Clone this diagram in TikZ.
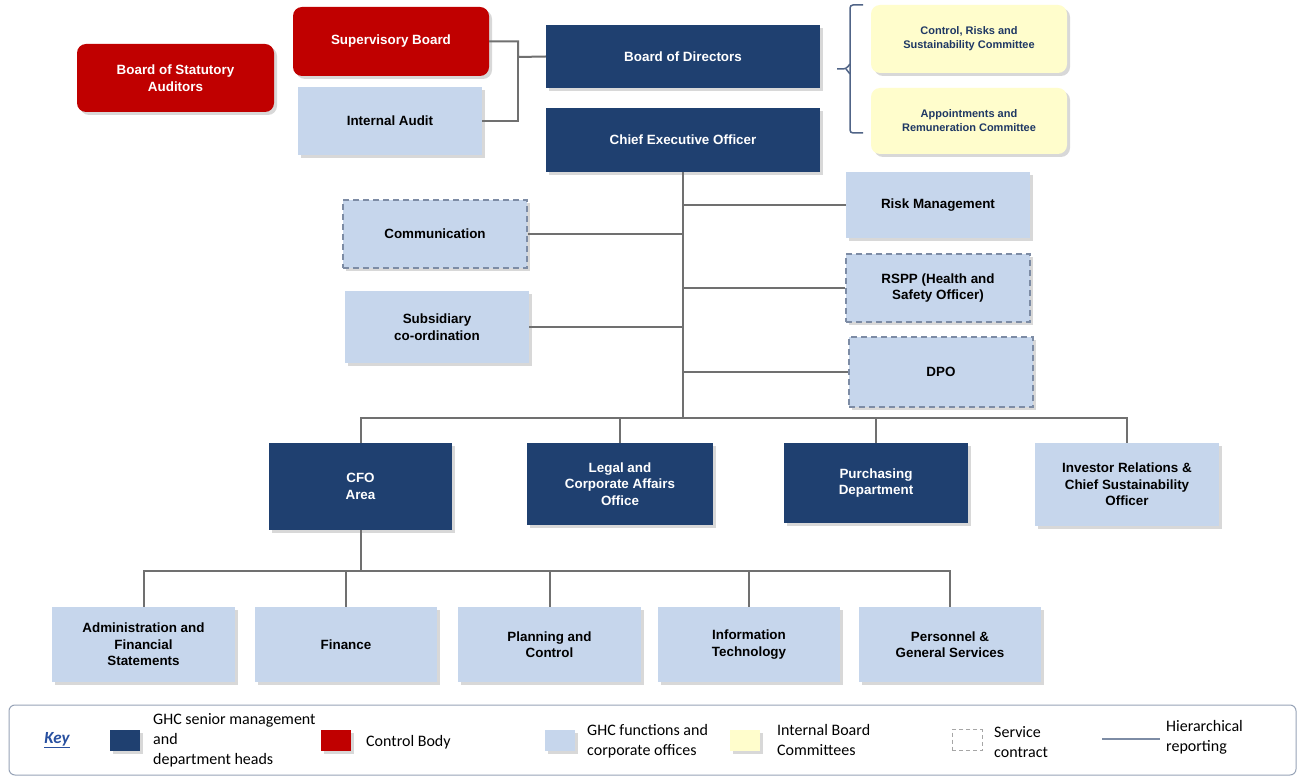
\documentclass[tikz,border=0pt]{standalone}
\usepackage{fontspec}
\setmainfont{Liberation Sans}
\newfontfamily\keyfont{Carlito}
\usetikzlibrary{shadows}
\definecolor{ghcdark}{RGB}{31,64,112}
\definecolor{ghcred}{RGB}{192,0,0}
\definecolor{ghclight}{RGB}{198,214,236}
\definecolor{ghcyellow}{RGB}{255,253,204}
\definecolor{ghcline}{RGB}{112,112,112}
\definecolor{ghcdash}{RGB}{125,140,165}
\definecolor{ghctext}{RGB}{31,56,100}
\definecolor{ghcbrace}{RGB}{80,100,135}
\definecolor{ghckey}{RGB}{40,80,160}
\tikzset{
  shade3/.style={drop shadow={shadow xshift=3pt, shadow yshift=-3pt, opacity=0.3}},
  box/.style={align=center, inner sep=2pt, shade3, font=\bfseries\fontsize{13.4}{16.5}\selectfont},
  darkbox/.style={box, fill=ghcdark, text=white},
  redbox/.style={box, fill=ghcred, text=white, rounded corners=9pt},
  lightbox/.style={box, fill=ghclight, text=black},
  dashbox/.style={lightbox, draw=ghcdash, dash pattern=on 6pt off 4pt, line width=1.5pt},
  yellowbox/.style={box, fill=ghcyellow, text=ghctext, rounded corners=9pt, font=\bfseries\fontsize{11}{14}\selectfont},
  link/.style={draw=ghcline, line width=2pt},
  keybox/.style={minimum width=30pt, minimum height=21pt, inner sep=0pt},
  keytext/.style={font=\keyfont\fontsize{16}{20}\selectfont, align=left, anchor=west, inner sep=0pt}
}
\begin{document}
\begin{tikzpicture}[x=1pt, y=-1pt]
\useasboundingbox (0,0) rectangle (1303,783);
\fill[white] (0,0) rectangle (1303,783);

\node[redbox, minimum width=197pt, minimum height=68pt] (bsa) at (175.5,78) {Board of Statutory\\Auditors};
\node[redbox, minimum width=196pt, minimum height=69pt] (sb) at (391,41.5) {Supervisory Board};
\node[lightbox, minimum width=184pt, minimum height=68pt] (ia) at (390,121) {Internal Audit};
\node[darkbox, minimum width=274pt, minimum height=63pt] (bod) at (683,56.5) {Board of Directors};
\node[darkbox, minimum width=274pt, minimum height=64pt] (ceo) at (683,140) {Chief Executive Officer};
\node[yellowbox, minimum width=196pt, minimum height=68pt] (crs) at (969,39) {Control, Risks and\\Sustainability Committee};
\node[yellowbox, minimum width=196pt, minimum height=66pt] (arc) at (969,121) {Appointments and\\Remuneration Committee};
\draw[ghcbrace, line width=1.5pt, rounded corners=3pt] (863,5) -- (850,5) -- (850,133) -- (863,133);
\draw[ghcbrace, line width=1.5pt, rounded corners=3pt] (850,64) -- (846,69) -- (837,69);
\draw[ghcbrace, line width=1.5pt, rounded corners=3pt] (850,74) -- (846,69);

\node[lightbox, minimum width=184pt, minimum height=66pt] (rm) at (938,205) {Risk Management};
\node[dashbox, minimum width=184pt, minimum height=68pt] (com) at (435,234) {Communication};
\node[dashbox, minimum width=184pt, minimum height=68pt] (rspp) at (938,288) {RSPP (Health and\\Safety Officer)};
\node[lightbox, minimum width=184pt, minimum height=71pt] (sub) at (437,327) {Subsidiary\\co-ordination};
\node[dashbox, minimum width=184pt, minimum height=70pt] (dpo) at (941,372) {DPO};

\node[darkbox, minimum width=183pt, minimum height=87pt] (cfo) at (360.5,486.5) {CFO\\Area};
\node[darkbox, minimum width=186pt, minimum height=82pt] (legal) at (620,484) {Legal and\\Corporate Affairs\\Office};
\node[darkbox, minimum width=184pt, minimum height=80pt] (pur) at (876,483) {Purchasing\\Department};
\node[lightbox, minimum width=184pt, minimum height=83pt] (inv) at (1127,484.5) {Investor Relations \&\\Chief Sustainability\\Officer};

\node[lightbox, minimum width=183pt, minimum height=75pt] (adm) at (143.5,644.5) {Administration and\\Financial\\Statements};
\node[lightbox, minimum width=182pt, minimum height=75pt] (fin) at (346,644.5) {Finance};
\node[lightbox, minimum width=183pt, minimum height=75pt] (pc) at (549.5,644.5) {Planning and\\Control};
\node[lightbox, minimum width=182pt, minimum height=75pt] (it) at (749,644.5) {Information\\Technology};
\node[lightbox, minimum width=182pt, minimum height=75pt] (per) at (950,644.5) {Personnel \&\\General Services};

\coordinate (j1) at (518,57);
\draw[link] (sb.east) -| (j1) -- (bod.west);
\draw[link] (ia.east) -| (j1);

\coordinate (h1) at (ceo.south |- 0,418);
\draw[link] (ceo.south) -- (h1);
\draw[link] (rm.west) -- (rm.west -| h1);
\draw[link] (com.east) -- (com.east -| h1);
\draw[link] (rspp.west) -- (rspp.west -| h1);
\draw[link] (sub.east) -- (sub.east -| h1);
\draw[link] (dpo.west) -- (dpo.west -| h1);
\draw[link] (cfo.north) -- (cfo.north |- h1) -- (inv.north |- h1) -- (inv.north);
\draw[link] (legal.north) -- (legal.north |- h1);
\draw[link] (pur.north) -- (pur.north |- h1);

\coordinate (h2) at (cfo.south |- 0,571);
\draw[link] (cfo.south) -- (h2);
\draw[link] (adm.north) -- (adm.north |- h2) -- (per.north |- h2) -- (per.north);
\foreach \n in {fin,pc,it}
  \draw[link] (\n.north) -- (\n.north |- h2);

\node[draw=ghcdash!80, line width=1pt, rounded corners=6pt, minimum width=1287pt, minimum height=70pt] (key) at (652.5,740) {};
\node[font=\keyfont\bfseries\itshape\fontsize{17}{20}\selectfont, text=ghckey] (keylbl) at (57,740) {\underline{Key}};
\node[keybox, shade3, fill=ghcdark] (k1) at (125,740) {};
\node[keytext] (t1) at (153,740) {GHC senior management\\and\\department heads};
\node[keybox, shade3, fill=ghcred] (k2) at (336,740) {};
\node[keytext] (t2) at (366,742) {Control Body};
\node[keybox, shade3, fill=ghclight] (k3) at (560,740) {};
\node[keytext] (t3) at (587,741) {GHC functions and\\corporate offices};
\node[keybox, shade3, fill=ghcyellow] (k4) at (745,740) {};
\node[keytext] (t4) at (777,740) {Internal Board\\Committees};
\node[keybox, fill=white, draw=gray!70, dash pattern=on 4pt off 3pt, line width=1pt] (k5) at (967,740) {};
\node[keytext] (t5) at (994,742) {Service\\contract};
\coordinate (l1) at (1102,739);
\coordinate (l2) at (1160,739);
\draw[ghcdash, line width=1.2pt] (l1) -- (l2);
\node[keytext] (t6) at (1166,737) {Hierarchical\\reporting};
\end{tikzpicture}
\end{document}
